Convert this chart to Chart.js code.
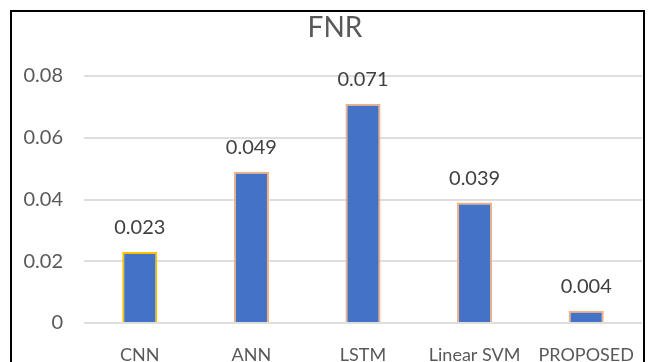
<!DOCTYPE html>
<html>
<head>
<meta charset="utf-8">
<script src="https://cdn.jsdelivr.net/npm/chart.js@4/dist/chart.umd.min.js"></script>
<style>
  html, body { margin: 0; padding: 0; background: #fff; overflow: hidden; }
  #wrap { position: relative; width: 651px; height: 362px; overflow: hidden; }
  #frame {
    position: absolute; left: 10px; top: 10px; width: 635px; height: 400px;
    border: 2px solid #000; box-sizing: border-box; pointer-events: none;
  }
  #box { position: absolute; left: 0; top: 0; width: 651px; height: 374px; }
</style>
</head>
<body>
<div id="wrap">
  <div id="box"><canvas id="chart"></canvas></div>
  <div id="frame"></div>
</div>
<script>
// False negative rate per model
const categories = ["CNN", "ANN", "LSTM", "Linear SVM", "PROPOSED"];
const fnrValues = [0.023, 0.049, 0.071, 0.039, 0.004];
const yTicks = [0, 0.02, 0.04, 0.06, 0.08];
const chartTitle = "FNR";

const FONT = "Lato, 'Noto Sans', sans-serif";

// Writes each bar's value above it, and the heading
const valueLabels = {
  id: "valueLabels",
  afterDatasetsDraw(chart) {
    const ctx = chart.ctx;
    const meta = chart.getDatasetMeta(0);
    ctx.save();
    ctx.font = "20px " + FONT;
    ctx.fillStyle = "#404040";
    ctx.textAlign = "center";
    ctx.textBaseline = "middle";
    meta.data.forEach((bar, i) => {
      ctx.fillText(String(fnrValues[i]), bar.x, bar.y - 24);
    });
    ctx.font = "28px " + FONT;
    ctx.fillStyle = "#595959";
    ctx.fillText(chartTitle, 335, 28);
    ctx.restore();
  }
};

new Chart(document.getElementById("chart"), {
  type: "bar",
  data: {
    labels: categories,
    datasets: [{
      data: fnrValues,
      backgroundColor: "#4472C4",
      borderColor: ["#FFC000", "#F4B183", "#F4B183", "#F4B183", "#F4B183"],
      borderWidth: 2,
      barPercentage: 0.315,
      categoryPercentage: 1
    }]
  },
  options: {
    responsive: true,
    maintainAspectRatio: false,
    animation: false,
    devicePixelRatio: 1,
    layout: { padding: { left: 8, right: 9, top: 76, bottom: 0 } },
    plugins: {
      legend: { display: false },
      tooltip: { enabled: false },
      title: { display: false }
    },
    scales: {
      x: {
        afterFit(scale) {
          scale.height = 51;
          scale.paddingLeft = 0;
          scale.paddingRight = 0;
        },
        grid: { display: false, drawTicks: false },
        border: { display: false },
        ticks: {
          color: "#595959",
          font: { family: FONT, size: 18 },
          padding: 21,
          maxRotation: 0,
          autoSkip: false
        }
      },
      y: {
        min: 0,
        max: 0.08,
        afterFit(scale) { scale.width = 76; },
        afterBuildTicks(scale) { scale.ticks = yTicks.map(v => ({ value: v })); },
        grid: { color: "#DEDEDE", lineWidth: 2, drawTicks: false },
        border: { display: false },
        ticks: {
          color: "#595959",
          font: { family: FONT, size: 20 },
          padding: 21,
          callback: v => String(v)
        }
      }
    }
  },
  plugins: [valueLabels]
});
</script>
</body>
</html>
